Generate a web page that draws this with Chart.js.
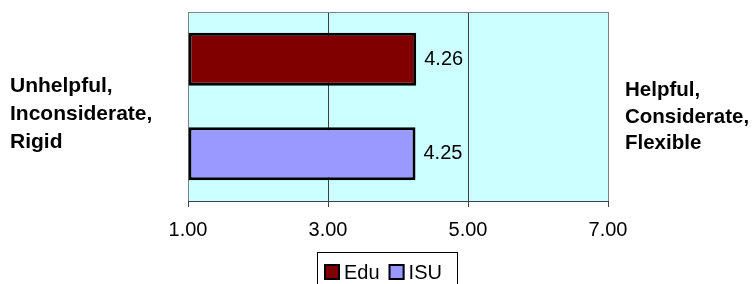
<!DOCTYPE html>
<html><head><meta charset="utf-8">
<script src="https://cdn.jsdelivr.net/npm/chart.js@4/dist/chart.umd.min.js"></script>
<style>html,body{margin:0;padding:0;background:#fff;}#wrap{width:755px;height:284px;position:relative;}</style>
</head><body><div id="wrap"><canvas id="c" width="755" height="284"></canvas></div>
<script>
const categories = ['Rating'];
const seriesNames = ['Edu', 'ISU'];
const eduValues = [4.26];
const isuValues = [4.25];
const xTickValues = [1, 3, 5, 7];
const leftLabel = ['Unhelpful,', 'Inconsiderate,', 'Rigid'];
const rightLabel = ['Helpful,', 'Considerate,', 'Flexible'];
const seriesColors = ['#800000', '#9999FF'];

const FONT = '"Liberation Sans", Arial, sans-serif';

const decorPlugin = {
  id: 'decor',
  beforeDraw(chart) {
    const {ctx, chartArea: a} = chart;
    ctx.save();
    ctx.fillStyle = '#CCFFFF';
    ctx.fillRect(a.left, a.top, a.right - a.left, a.bottom - a.top);
    ctx.restore();
  },
  beforeDatasetsDraw(chart) {
    const {ctx, chartArea: a} = chart;
    ctx.save();
    ctx.strokeStyle = '#808080';
    ctx.lineWidth = 1;
    ctx.beginPath();
    ctx.moveTo(a.left, a.top + 0.5);
    ctx.lineTo(a.right + 1, a.top + 0.5);
    ctx.stroke();
    ctx.restore();
  },
  afterDatasetsDraw(chart) {
    const {ctx} = chart;
    ctx.save();
    ctx.font = '20px ' + FONT;
    ctx.fillStyle = '#000';
    ctx.textBaseline = 'middle';
    ctx.textAlign = 'left';
    chart.data.datasets.forEach((ds, di) => {
      const meta = chart.getDatasetMeta(di);
      meta.data.forEach((el, i) => {
        ctx.fillText(ds.data[i].toFixed(2), el.x + 8, el.y);
      });
    });
    ctx.restore();
  },
  afterDraw(chart) {
    const {ctx} = chart;
    ctx.save();
    ctx.fillStyle = '#000';
    ctx.textBaseline = 'alphabetic';
    ctx.textAlign = 'left';
    ctx.font = 'bold 21px ' + FONT;
    const lb = [92, 120, 148];
    leftLabel.forEach((t, i) => ctx.fillText(t, 10, lb[i]));
    ctx.font = 'bold 20.5px ' + FONT;
    const rb = [96, 122.5, 149];
    rightLabel.forEach((t, i) => ctx.fillText(t, 625, rb[i]));

    // legend
    ctx.font = '20px ' + FONT;
    ctx.strokeStyle = '#000';
    ctx.lineWidth = 1;
    ctx.strokeRect(317.5, 252.5, 140, 40);
    let x = 324;
    chart.data.datasets.forEach((ds) => {
      ctx.fillStyle = ds.backgroundColor;
      ctx.fillRect(x, 264, 16, 16);
      ctx.lineWidth = 2;
      ctx.strokeRect(x + 1, 265, 14, 14);
      ctx.fillStyle = '#000';
      ctx.fillText(ds.label, x + 20, 279);
      x += 20 + ctx.measureText(ds.label).width + 9;
    });
    ctx.restore();
  }
};

new Chart(document.getElementById('c'), {
  type: 'bar',
  data: {
    labels: categories,
    datasets: [
      {label: seriesNames[0], data: eduValues, backgroundColor: seriesColors[0]},
      {label: seriesNames[1], data: isuValues, backgroundColor: seriesColors[1]}
    ].map(d => Object.assign(d, {
      borderColor: '#000', borderWidth: 3, borderSkipped: false, base: 1,
      categoryPercentage: 1, barPercentage: 0.56
    }))
  },
  options: {
    indexAxis: 'y',
    responsive: false,
    animation: false,
    devicePixelRatio: 1,
    layout: {padding: {left: 188, right: 147, top: 12, bottom: 0}},
    plugins: {legend: {display: false}, tooltip: {enabled: false}},
    scales: {
      x: {
        type: 'linear', min: 1, max: 7,
        afterBuildTicks: s => { s.ticks = xTickValues.map(v => ({value: v})); },
        afterFit: s => { s.height = 83; },
        grid: {
          color: c => (c.tick && (c.tick.value === 1 || c.tick.value === 7)) ? '#808080' : '#404040',
          lineWidth: 1, drawTicks: true, tickLength: 6, tickColor: '#404040'
        },
        border: {display: true, color: '#404040', width: 1},
        ticks: {
          color: '#000', padding: 11, maxRotation: 0,
          font: {family: FONT, size: 20},
          callback: v => Number(v).toFixed(2)
        }
      },
      y: {type: 'category', display: false}
    }
  },
  plugins: [decorPlugin]
});
</script></body></html>
